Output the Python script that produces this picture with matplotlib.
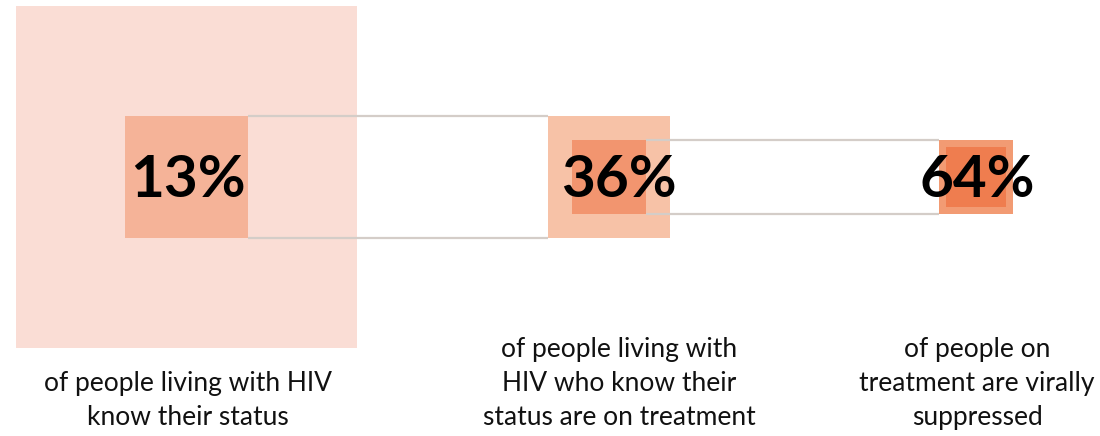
import numpy as np
import matplotlib.pyplot as plt
from matplotlib.patches import Rectangle

# cascade values (share of previous stage)
values = [0.13, 0.36, 0.64]
value_labels = ['13%', '36%', '64%']
captions = [
    'of people living with HIV\nknow their status',
    'of people living with\nHIV who know their\nstatus are on treatment',
    'of people on\ntreatment are virally\nsuppressed',
]

outer_colors = ['#FADDD5', '#F7C2A7', '#F29B73']
inner_colors = ['#F5B398', '#F2956F', '#EF7D4F']
line_color = '#D4CDC8'

# layout in pixel units
col_x = [186.5, 609, 976]
text_x = [188, 619, 977]
cy = 177
base = 341

fig = plt.figure(figsize=(11, 4.36), dpi=100)
ax = fig.add_axes([0, 0, 1, 1])
ax.set_xlim(0, 1100)
ax.set_ylim(436, 0)
ax.axis('off')

outer = base
boxes = []
for i, v in enumerate(values):
    inner = outer * np.sqrt(v)
    cx = col_x[i]
    ax.add_patch(Rectangle((cx - outer / 2, cy - outer / 2), outer, outer,
                           facecolor=outer_colors[i], edgecolor='none', zorder=1))
    ax.add_patch(Rectangle((cx - inner / 2, cy - inner / 2), inner, inner,
                           facecolor=inner_colors[i], edgecolor='none', zorder=3))
    boxes.append((cx, outer, inner))
    outer = inner

# grey connectors from each inner square to the next outer square
for i in range(len(boxes) - 1):
    cx, _, inner = boxes[i]
    nx, nouter, _ = boxes[i + 1]
    x0 = cx + inner / 2
    x1 = nx - nouter / 2
    for yy in (cy - inner / 2, cy + inner / 2):
        ax.plot([x0, x1], [yy, yy], color=line_color, lw=1.6, zorder=2,
                solid_capstyle='butt')

for i in range(len(values)):
    ax.text(text_x[i], cy + 3, value_labels[i], ha='center', va='center',
            fontsize=42, fontweight='bold', family='Lato', color='black', zorder=5)
    ax.text(text_x[i], 430, captions[i], ha='center', va='bottom',
            fontsize=19, family='Lato', color='#111111', linespacing=1.45)

fig.savefig('out.png', dpi=100)
